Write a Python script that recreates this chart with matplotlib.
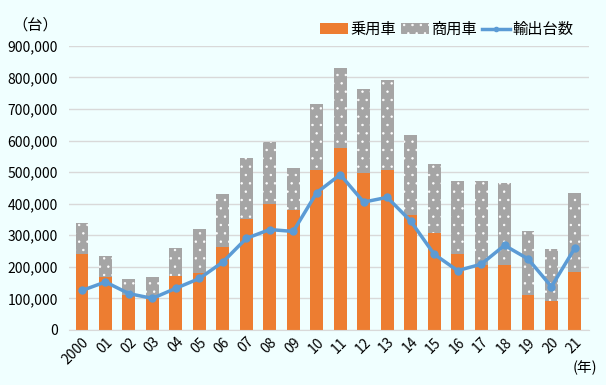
import matplotlib
matplotlib.use("Agg")
import matplotlib.pyplot as plt
from matplotlib.ticker import FuncFormatter

plt.rcParams["font.family"] = ["Noto Sans CJK JP", "DejaVu Sans"]
plt.rcParams["hatch.linewidth"] = 0.5

years = ["2000", "01", "02", "03", "04", "05", "06", "07", "08", "09", "10",
         "11", "12", "13", "14", "15", "16", "17", "18", "19", "20", "21"]
passenger = [240000, 168000, 112000, 100000, 172000, 180000, 262000, 350000,
             400000, 380000, 508000, 577000, 497000, 508000, 365000, 308000,
             242000, 205000, 207000, 110000, 93000, 185000]
total = [340000, 235000, 160000, 168000, 260000, 320000, 430000, 545000,
         595000, 512000, 715000, 830000, 763000, 792000, 617000, 525000,
         472000, 472000, 466000, 314000, 257000, 435000]
exports = [125000, 152000, 115000, 100000, 132000, 163000, 215000, 290000,
           318000, 312000, 435000, 492000, 405000, 420000, 345000, 240000,
           188000, 208000, 268000, 225000, 137000, 260000]
commercial = [t - p for t, p in zip(total, passenger)]

bg = "#f0ffff"
fig = plt.figure(figsize=(6.06, 3.85), dpi=100, facecolor=bg)
ax = fig.add_axes([0.114, 0.143, 0.858, 0.738], facecolor=bg)

x = list(range(len(years)))
b1 = ax.bar(x, passenger, width=0.55, color="#ED7D31", label="乗用車", zorder=2)
b2 = ax.bar(x, commercial, width=0.55, bottom=passenger, color="#A5A5A5",
            edgecolor="white", linewidth=0, hatch="..", label="商用車", zorder=2)
ln, = ax.plot(x, exports, color="#5B9BD5", lw=2.5, marker="o", ms=5,
              label="輸出台数", zorder=3)

ax.set_ylim(0, 900000)
ax.set_xlim(-0.55, 21.6)
ax.set_yticks(range(0, 900001, 100000))
ax.yaxis.set_major_formatter(FuncFormatter(lambda v, _: f"{int(v):,}"))
ax.grid(axis="y", color="#d9d9d9", lw=1, zorder=0)
ax.set_xticks(x)
ax.set_xticklabels(years, rotation=45, ha="right", rotation_mode="anchor")
ax.tick_params(axis="both", length=0, labelsize=10)
ax.tick_params(axis="y", pad=8)
for s in ("top", "right", "left"):
    ax.spines[s].set_visible(False)
ax.spines["bottom"].set_color("#d9d9d9")

fig.text(0.02, 0.935, "（台）", fontsize=11, va="center")
fig.text(0.945, 0.045, "(年)", fontsize=10.5, va="center")

ax.legend([b1, b2, ln], ["乗用車", "商用車", "輸出台数"], loc="lower right",
          bbox_to_anchor=(0.985, 1.0), ncol=3, frameon=False, fontsize=11,
          handlelength=1.8, handletextpad=0.2, columnspacing=0.3,
          borderaxespad=0.1, markerscale=0.6)

fig.savefig("out.png", dpi=100, facecolor=bg)
